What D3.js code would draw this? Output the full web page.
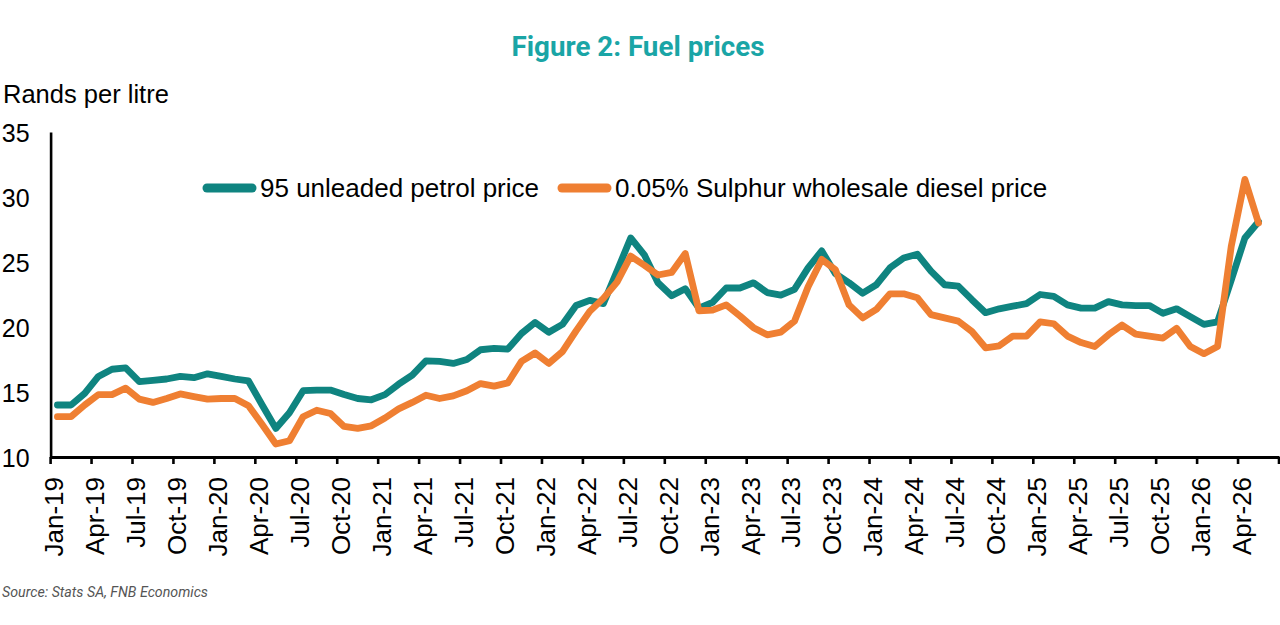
<!DOCTYPE html>
<html>
<head>
<meta charset="utf-8">
<script src="https://cdn.jsdelivr.net/npm/d3@7"></script>
<style>
  body { margin: 0; background: #fff; }
  text { font-family: "Liberation Sans", Arial, sans-serif; fill: #000; }
</style>
</head>
<body>
<div id="fuelChart"></div>
<script>
// monthly prices, Jan-19 .. May-26 (rand per litre)
var petrol = [
  14.0, 14.0, 14.9, 16.2, 16.75, 16.85, 15.8, 15.9, 16.0, 16.2, 16.1, 16.4,
  16.2, 16.0, 15.85, 14.0, 12.2, 13.4, 15.1, 15.15, 15.15, 14.8, 14.5, 14.4,
  14.8, 15.6, 16.3, 17.4, 17.35, 17.2, 17.5, 18.25, 18.35, 18.3, 19.5, 20.35,
  19.6, 20.2, 21.65, 22.05, 21.8, 24.3, 26.85, 25.55, 23.4, 22.4, 22.95, 21.45,
  21.9, 23.0, 23.0, 23.4, 22.65, 22.45, 22.9, 24.55, 25.85, 24.1, 23.4, 22.6,
  23.25, 24.55, 25.3, 25.6, 24.3, 23.25, 23.15, 22.1, 21.1, 21.4, 21.6, 21.8,
  22.5, 22.35, 21.7, 21.45, 21.45, 21.95, 21.7, 21.65, 21.65, 21.05, 21.4, 20.8,
  20.2, 20.4, 23.6, 26.85, 28.1
];
var diesel = [
  13.1, 13.1, 14.0, 14.8, 14.8, 15.3, 14.45, 14.2, 14.5, 14.85, 14.65, 14.45,
  14.5, 14.5, 13.95, 12.5, 11.0, 11.25, 13.1, 13.6, 13.35, 12.35, 12.2, 12.4,
  13.0, 13.7, 14.2, 14.75, 14.5, 14.7, 15.1, 15.65, 15.45, 15.7, 17.35, 18.0,
  17.2, 18.1, 19.7, 21.2, 22.2, 23.45, 25.45, 24.75, 24.0, 24.2, 25.65, 21.25,
  21.3, 21.7, 20.85, 19.95, 19.4, 19.6, 20.45, 23.1, 25.2, 24.4, 21.7, 20.7,
  21.35, 22.55, 22.55, 22.25, 20.95, 20.7, 20.45, 19.65, 18.4, 18.55, 19.3, 19.3,
  20.4, 20.25, 19.3, 18.8, 18.5, 19.4, 20.15, 19.45, 19.3, 19.15, 19.9, 18.5,
  17.95, 18.5, 26.2, 31.35, 28.0
];
var seriesNames = ["95 unleaded petrol price", "0.05% Sulphur wholesale diesel price"];
var seriesColors = ["#0f8480", "#ef7f32"];
var yTicks = [10, 15, 20, 25, 30, 35];

// category axis runs Jan-19 .. Jun-26
var fmt = d3.timeFormat("%b-%y");
var months = d3.timeMonths(new Date(2019, 0, 1), new Date(2026, 6, 1)).map(fmt);
var tickMonths = months.filter(function (d, i) { return i % 3 === 0; });

var w = 1280, h = 625;
var svg = d3.select("#fuelChart").append("svg")
  .attr("width", w)
  .attr("height", h);

var x = d3.scaleBand().domain(months).range([50.6, 1279]).padding(0);
var bw = x.bandwidth();
var y = d3.scaleLinear().domain([10, 35]).range([457, 132]);

// title
svg.append("text")
  .attr("x", 638)
  .attr("y", 56)
  .attr("text-anchor", "middle")
  .attr("textLength", 253)
  .attr("lengthAdjust", "spacingAndGlyphs")
  .style("font-family", "Roboto, 'Liberation Sans', sans-serif")
  .style("font-weight", 700)
  .style("font-size", "28px")
  .style("fill", "#1aa5a6")
  .text("Figure 2: Fuel prices");

// unit label
svg.append("text")
  .attr("x", 3)
  .attr("y", 103)
  .style("font-size", "25.5px")
  .text("Rands per litre");

// y axis
var yAxis = svg.append("g")
  .attr("transform", "translate(50.6,0)")
  .call(d3.axisLeft(y).tickValues(yTicks).tickSize(0).tickSizeOuter(0).tickPadding(21));
yAxis.select(".domain").attr("stroke", "#000").attr("stroke-width", 2.6);
yAxis.selectAll("text")
  .style("font-family", "'Liberation Sans', Arial, sans-serif")
  .style("font-size", "25px")
  .attr("dy", "0.36em");

// x axis, ticks sit on the quarter boundaries
var xAxis = svg.append("g")
  .attr("transform", "translate(0,457)")
  .call(d3.axisBottom(x).tickValues(tickMonths).tickSize(7).tickSizeOuter(0));
xAxis.select(".domain").attr("stroke", "#000").attr("stroke-width", 2.8);
xAxis.selectAll(".tick line")
  .attr("stroke", "#000")
  .attr("stroke-width", 2.6)
  .attr("transform", "translate(" + (-bw / 2) + ",0)");
xAxis.selectAll(".tick text")
  .attr("x", 0).attr("y", 0).attr("dy", 0)
  .attr("text-anchor", "end")
  .attr("transform", "translate(6,20) rotate(-90)")
  .style("font-family", "'Liberation Sans', Arial, sans-serif")
  .style("font-size", "26px");
// closing tick at the right end
xAxis.append("line")
  .attr("x1", x.range()[1]).attr("x2", x.range()[1])
  .attr("y1", 0).attr("y2", 7)
  .attr("stroke", "#000")
  .attr("stroke-width", 2.6);

// lines
var line = d3.line()
  .x(function (d, i) { return x(months[i]) + bw / 2; })
  .y(function (d) { return y(d); });

[petrol, diesel].forEach(function (s, k) {
  svg.append("path")
    .datum(s)
    .attr("fill", "none")
    .attr("stroke", seriesColors[k])
    .attr("stroke-width", 6.8)
    .attr("stroke-linejoin", "round")
    .attr("stroke-linecap", "round")
    .attr("d", line);
});

// legend
var legendX = [207, 562];
var legend = svg.append("g").attr("class", "legend");
seriesNames.forEach(function (name, k) {
  legend.append("line")
    .attr("x1", legendX[k]).attr("x2", legendX[k] + 45)
    .attr("y1", 188).attr("y2", 188)
    .attr("stroke", seriesColors[k])
    .attr("stroke-width", 9)
    .attr("stroke-linecap", "round");
  legend.append("text")
    .attr("x", legendX[k] + 53)
    .attr("y", 197)
    .style("font-size", "26px")
    .text(name);
});

// source
svg.append("text")
  .attr("x", 2)
  .attr("y", 597)
  .attr("textLength", 206)
  .attr("lengthAdjust", "spacingAndGlyphs")
  .style("font-family", "Roboto, 'Liberation Sans', sans-serif")
  .style("font-style", "italic")
  .style("font-size", "15px")
  .style("fill", "#555")
  .text("Source: Stats SA, FNB Economics");
</script>
</body>
</html>
